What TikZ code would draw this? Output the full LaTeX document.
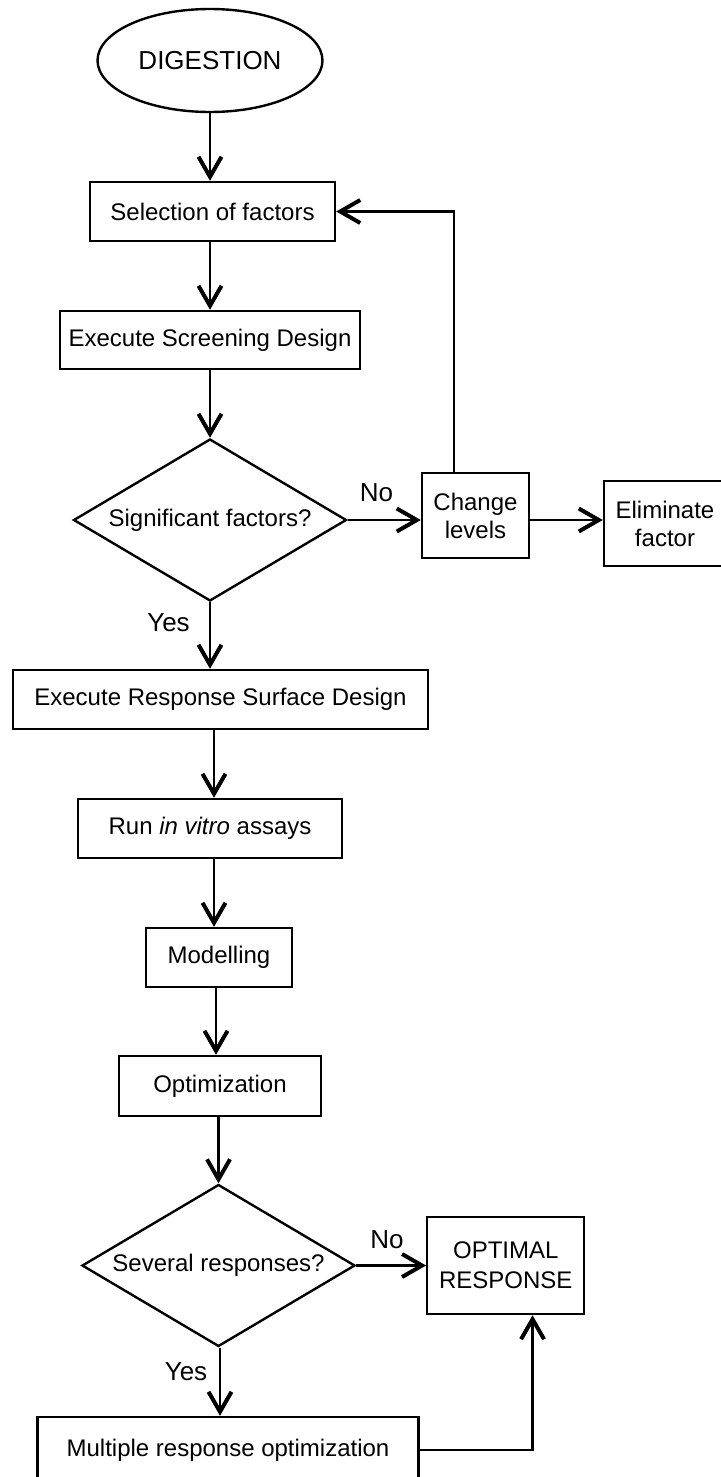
\documentclass[tikz,border=0pt]{standalone}
\usepackage{fontspec}
\setmainfont{Liberation Sans}
\usetikzlibrary{shapes.geometric,arrows.meta}

\begin{document}
\begin{tikzpicture}[x=0.5pt, y=-0.5pt, line width=1.2pt,
    font=\fontsize{12}{14}\selectfont,
    box/.style={rectangle, draw, inner sep=0pt, align=center},
    decision/.style={diamond, draw, inner sep=0pt, aspect=1.69,
      minimum width=136.5pt, minimum height=81pt},
    arr/.style={-{Straight Barb[length=10pt, width=11.5pt, line width=2pt]}},
    lbl/.style={font=\fontsize{13}{15}\selectfont} % Yes / No
   ]
  \useasboundingbox (0,0) rectangle (720,1477);

  % main column
  \node[ellipse, draw, inner sep=0pt, minimum width=112.5pt, minimum height=51.5pt,
        font=\fontsize{13}{15}\selectfont] (dig) at (210,60.5) {DIGESTION};
  \node[box, minimum width=122.5pt, minimum height=29.5pt] (sel) at (212.5,211.5)
        {Selection of factors};
  \node[box, minimum width=150pt, minimum height=29pt] (scr) at (210,340)
        {Execute Screening Design};
  \node[decision] (sig) at (210,520) {Significant factors?};
  \node[box, minimum width=207.5pt, minimum height=29.5pt] (rsd) at (220.5,699.5)
        {Execute Response Surface Design};
  \node[box, minimum width=132pt, minimum height=29.5pt] (run) at (210,828.5)
        {Run \textit{in vitro} assays};
  \node[box, minimum width=73pt, minimum height=29.5pt] (mod) at (219,957.5)
        {Modelling};
  \node[box, minimum width=101pt, minimum height=30pt] (opt) at (220,1086)
        {Optimization};
  \node[decision] (sev) at (218.5,1265.5) {Several responses?};
  \node[box, minimum width=190.5pt, minimum height=33pt] (multi) at (228,1450)
        {Multiple response optimization};

  % side boxes
  \node[box, minimum width=53.5pt, minimum height=42.5pt] (chg) at (475.5,515.5)
        {Change\\levels};
  \node[box, minimum width=61pt, minimum height=42.5pt] (elim) at (665,523.5)
        {Eliminate\\factor};
  \node[box, minimum width=78.5pt, minimum height=48.5pt,
        font=\fontsize{12}{15}\selectfont] (res) at (505.75,1265.5)
        {OPTIMAL\\RESPONSE};

  % labels
  \node[lbl] (no1) at (376.5,493) {No};
  \node[lbl] (yes1) at (168.5,623) {Yes};
  \node[lbl] (no2) at (387,1240) {No};
  \node[lbl] (yes2) at (186,1372) {Yes};

  % connectors
  \draw[arr] (dig.south) -- (dig.south |- sel.north);
  \draw[arr] (scr.north |- sel.south) -- (scr.north);
  \draw[arr] (scr.south) -- (scr.south |- sig.north);
  \draw[arr] (sig.south) -- (sig.south |- rsd.north);
  \draw[arr] (214,729) -- (run.north -| 214,0);
  \draw[arr] (run.south -| 214,0) -- (mod.north -| 214,0);
  \draw[arr] (mod.south -| 216,0) -- (opt.north -| 216,0);
  \draw[arr] (opt.south -| sev.north) -- (sev.north);
  \draw[arr] (sev.south -| 220,0) -- (multi.north -| 220,0);
  \draw[arr] (sig.east) -- (sig.east -| chg.west);
  \draw[arr] (chg.east |- sig.east) -- (elim.west |- sig.east);
  \draw[arr] ([xshift=-10.75pt]chg.north) |- (sel.east);
  \draw[arr] (sev.east) -- (res.west);
  \draw[arr] (multi.east) -| ([xshift=13.4pt]res.south);
\end{tikzpicture}
\end{document}
